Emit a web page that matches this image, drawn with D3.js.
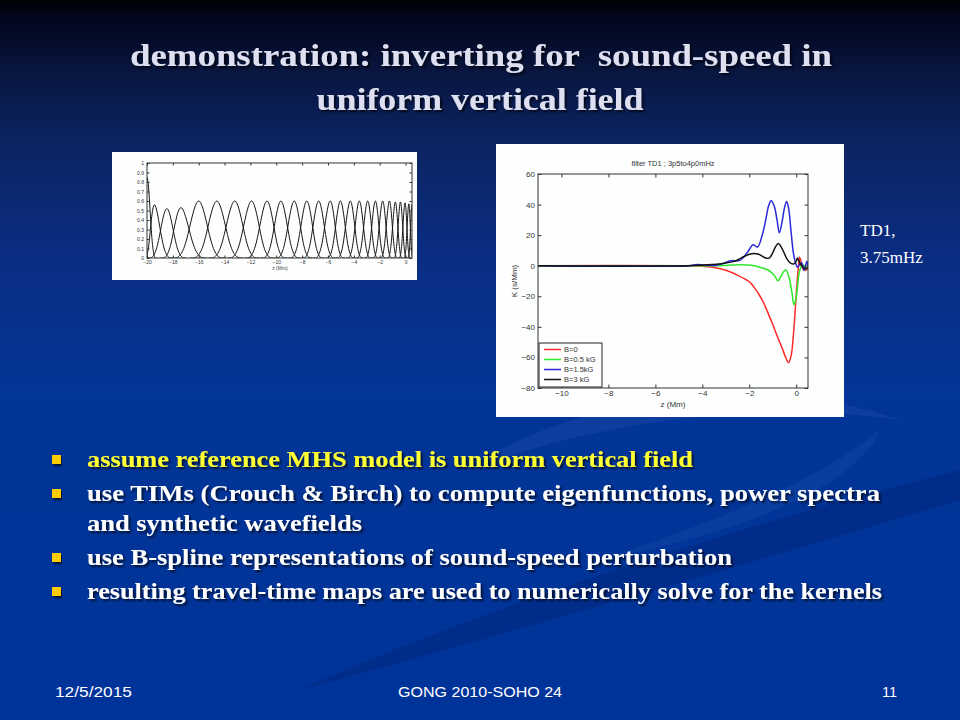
<!DOCTYPE html>
<html lang="en">
<head>
<meta charset="UTF-8">
<title>demonstration: inverting for sound-speed</title>
<script src="https://cdn.jsdelivr.net/npm/d3@7"></script>
<style>
    body { margin: 0; background: #003399; }
    svg { display: block; }
</style>
</head>
<body>
<svg id="slide" width="960" height="720"></svg>
<script>
    // left panel: B-spline basis, peak position (Mm) and peak height of each function
    var splineCenters = [-20, -19.48, -18.47, -17.42, -16.0, -14.6, -13.2, -11.9, -10.7, -9.64, -8.6, -7.63,
        -6.72, -5.81, -5.04, -4.26, -3.57, -2.92, -2.33, -1.76, -1.24, -0.78, -0.39, -0.03, 0.26, 0.5];
    var splineHeights = [0.85, 0.56, 0.52, 0.53, 0.6, 0.6, 0.6, 0.6, 0.6, 0.6, 0.6, 0.6,
        0.6, 0.6, 0.6, 0.6, 0.6, 0.6, 0.6, 0.6, 0.6, 0.59, 0.59, 0.58, 0.57, 0.56];
    var splineXTicks = [-20, -18, -16, -14, -12, -10, -8, -6, -4, -2, 0];
    var splineYTicks = [0, 0.1, 0.2, 0.3, 0.4, 0.5, 0.6, 0.7, 0.8, 0.9, 1];

    // right panel: kernels K (s/Mm) against z (Mm)
    var kernelNames = ["B=0", "B=0.5 kG", "B=1.5kG", "B=3 kG"];
    var kernelColors = ["#ff2a2a", "#2ee82e", "#2a2ad8", "#111111"];
    var kernelB0 = [[-11, 0], [-4.6, 0], [-4, -0.3], [-3.5, -1.2], [-3, -3], [-2.5, -6.2], [-2, -10.5],
        [-1.8, -14], [-1.6, -18.5], [-1.4, -24], [-1.2, -31], [-1.0, -38.5], [-0.8, -46.5], [-0.6, -54],
        [-0.45, -60], [-0.33, -63.5], [-0.22, -59], [-0.12, -45], [-0.04, -28], [0.03, -12], [0.09, -1],
        [0.14, 5.5], [0.2, 3], [0.28, -2], [0.38, -3], [0.5, -2]];
    var kernelB05 = [[-11, 0], [-4, 0], [-3, 0.2], [-2.4, 0.7], [-1.9, 0.3], [-1.5, -1.2], [-1.2, -2.8],
        [-0.95, -6], [-0.78, -9.8], [-0.62, -6], [-0.45, -2.6], [-0.3, -8], [-0.18, -18], [-0.1, -25.5],
        [-0.02, -22], [0.05, -14], [0.12, -5], [0.2, -1], [0.3, 0.5], [0.4, -1], [0.5, -2]];
    var kernelB15 = [[-11, 0], [-4.6, 0], [-4.2, 0.8], [-3.8, 0.3], [-3.4, 0.3], [-3.1, 1.5], [-2.8, 3.3],
        [-2.4, 3.5], [-2.1, 8.3], [-1.84, 13.7], [-1.65, 12.2], [-1.45, 20], [-1.3, 30], [-1.18, 39],
        [-1.07, 42.5], [-0.94, 39], [-0.82, 30], [-0.72, 21.5], [-0.6, 29], [-0.5, 38], [-0.41, 42],
        [-0.33, 38], [-0.22, 22], [-0.12, 8], [-0.05, 3], [0.05, -1], [0.14, 0.8], [0.23, 2], [0.33, -3],
        [0.4, 0], [0.45, 3], [0.5, 0]];
    var kernelB3 = [[-11, 0], [-4.6, 0], [-4, 0.5], [-3.4, 1], [-3, 1.8], [-2.6, 3], [-2.3, 5.5], [-2.0, 7.5],
        [-1.8, 8], [-1.6, 7.5], [-1.3, 5], [-1.15, 5], [-1.0, 8.5], [-0.88, 12.5], [-0.76, 14.5],
        [-0.65, 12.5], [-0.52, 8.5], [-0.38, 4], [-0.22, 1.5], [-0.1, 1.2], [0.0, 3], [0.05, 5], [0.12, 3],
        [0.2, 0.5], [0.3, -1], [0.4, -2], [0.5, -1]];
    var kernelXTicks = [-10, -8, -6, -4, -2, 0];
    var kernelYTicks = [60, 40, 20, 0, -20, -40, -60, -80];

    var bullets = [
        {lines: ["assume reference MHS model is uniform vertical field"], hi: true},
        {lines: ["use TIMs (Crouch & Birch) to compute eigenfunctions, power spectra", "and synthetic wavefields"]},
        {lines: ["use B-spline representations of sound-speed perturbation"]},
        {lines: ["resulting travel-time maps are used to numerically solve for the kernels"]}
    ];

    var svg = d3.select("#slide");
    var defs = svg.append("defs");

    var grad = defs.append("linearGradient").attr("id", "bg")
        .attr("x1", 0).attr("y1", 0).attr("x2", 0).attr("y2", 1);
    [[0, "#000006"], [0.02, "#020419"], [0.1, "#081640"], [0.2, "#0c2462"], [0.35, "#0a2d82"],
        [0.55, "#033598"], [1, "#003399"]].forEach(function (s) {
        grad.append("stop").attr("offset", s[0]).attr("stop-color", s[1]);
    });

    var shadow = defs.append("filter").attr("id", "shadow")
        .attr("x", "-5%").attr("y", "-20%").attr("width", "110%").attr("height", "150%");
    shadow.append("feDropShadow").attr("dx", 2).attr("dy", 2).attr("stdDeviation", 0.8)
        .attr("flood-color", "#000").attr("flood-opacity", 0.7);

    svg.append("rect").attr("width", 960).attr("height", 720).attr("fill", "url(#bg)");

    // faint swooshes in the background
    svg.append("path")
        .attr("d", "M470,470 C560,400 760,370 900,420 C760,400 600,420 470,470 Z")
        .attr("fill", "#5b86d8").attr("opacity", 0.12);
    svg.append("path")
        .attr("d", "M300,690 C500,600 760,520 960,470 L960,500 C760,560 520,630 300,690 Z")
        .attr("fill", "#001f70").attr("opacity", 0.35);
    svg.append("path")
        .attr("d", "M600,560 C720,520 820,480 880,430 C860,480 760,530 600,560 Z")
        .attr("fill", "#5b86d8").attr("opacity", 0.1);

    // title
    var title = svg.append("g").attr("font-family", "'Liberation Serif', 'Times New Roman', serif")
        .attr("font-weight", "bold").attr("font-size", 31).attr("fill", "#dedff0")
        .attr("text-anchor", "middle").attr("filter", "url(#shadow)");
    title.append("text").attr("x", 481).attr("y", 66)
        .attr("textLength", 702).attr("lengthAdjust", "spacingAndGlyphs")
        .text("demonstration: inverting for \u00a0sound-speed in");
    title.append("text").attr("x", 480).attr("y", 110)
        .attr("textLength", 327).attr("lengthAdjust", "spacingAndGlyphs")
        .text("uniform vertical field");

    // ---------- left panel ----------
    var left = svg.append("g");
    left.append("rect").attr("x", 112).attr("y", 152).attr("width", 305).attr("height", 128).attr("fill", "#fdfefe");

    var sx = d3.scaleLinear().domain([-20, 0.5]).range([147, 412]);
    var sy = d3.scaleLinear().domain([0, 1]).range([258, 163]);

    defs.append("clipPath").attr("id", "clipL").append("rect")
        .attr("x", sx.range()[0]).attr("y", sy.range()[1])
        .attr("width", sx.range()[1] - sx.range()[0]).attr("height", sy.range()[0] - sy.range()[1]);

    var basisLine = d3.line().x(function (d) { return sx(d[0]); }).y(function (d) { return sy(d[1]); })
        .curve(d3.curveBasis);

    function basisPoints(i) {
        var c = splineCenters[i], h = splineHeights[i];
        var prev = i > 0 ? splineCenters[i - 1] : c - (splineCenters[1] - c);
        var next = i < splineCenters.length - 1 ? splineCenters[i + 1] : c + (c - splineCenters[i - 1]);
        var wl = 1.45 * (c - prev), wr = 1.45 * (next - c);
        return [[c - wl, 0], [c - wl / 2, 0], [c, 1.5 * h], [c + wr / 2, 0], [c + wr, 0]];
    }

    left.append("g").attr("clip-path", "url(#clipL)")
        .selectAll("path").data(d3.range(splineCenters.length)).enter()
        .append("path")
        .attr("d", function (i) { return basisLine(basisPoints(i)); })
        .attr("fill", "none").attr("stroke", "#151515").attr("stroke-width", 1);

    function boxAxes(g, x, y, xt, yt, fs, tl, xfmt, yfmt) {
        var x0 = x.range()[0], x1 = x.range()[1], y0 = y.range()[0], y1 = y.range()[1];
        g.append("g").attr("transform", "translate(0," + y0 + ")")
            .call(d3.axisBottom(x).tickValues(xt).tickSize(-tl).tickPadding(2).tickFormat(xfmt));
        g.append("g").attr("transform", "translate(0," + y1 + ")")
            .call(d3.axisTop(x).tickValues(xt).tickSize(-tl).tickFormat(""));
        g.append("g").attr("transform", "translate(" + x0 + ",0)")
            .call(d3.axisLeft(y).tickValues(yt).tickSize(-tl).tickPadding(3).tickFormat(yfmt));
        g.append("g").attr("transform", "translate(" + x1 + ",0)")
            .call(d3.axisRight(y).tickValues(yt).tickSize(-tl).tickFormat(""));
        g.selectAll(".domain").remove();
        g.selectAll(".tick line").attr("stroke", "#333");
        g.selectAll(".tick text").attr("font-size", fs).attr("fill", "#333")
            .attr("font-family", "'Liberation Sans', Arial, sans-serif");
        g.append("rect").attr("x", x0).attr("y", y1).attr("width", x1 - x0).attr("height", y0 - y1)
            .attr("fill", "none").attr("stroke", "#333").attr("stroke-width", 1);
    }

    var leftAxes = left.append("g");
    boxAxes(leftAxes, sx, sy, splineXTicks, splineYTicks, 5, 2.5, d3.format("d"), function (d) { return d; });
    left.append("text").attr("x", 280).attr("y", 270).attr("text-anchor", "middle")
        .attr("font-size", 5).attr("fill", "#444").attr("font-family", "'Liberation Sans', Arial, sans-serif")
        .text("z (Mm)");

    // ---------- right panel ----------
    var right = svg.append("g");
    right.append("rect").attr("x", 496).attr("y", 144).attr("width", 348).attr("height", 273).attr("fill", "#fdfefe");

    var kx = d3.scaleLinear().domain([-11, 0.5]).range([538, 808]);
    var ky = d3.scaleLinear().domain([-80, 60]).range([388, 174]);

    defs.append("clipPath").attr("id", "clipR").append("rect")
        .attr("x", kx.range()[0]).attr("y", ky.range()[1])
        .attr("width", kx.range()[1] - kx.range()[0]).attr("height", ky.range()[0] - ky.range()[1]);

    var kLine = d3.line().x(function (d) { return kx(d[0]); }).y(function (d) { return ky(d[1]); })
        .curve(d3.curveCatmullRom.alpha(0.5));

    var kernels = [kernelB0, kernelB05, kernelB15, kernelB3];
    right.append("g").attr("clip-path", "url(#clipR)")
        .selectAll("path").data(kernels).enter()
        .append("path")
        .attr("d", kLine)
        .attr("fill", "none")
        .attr("stroke", function (d, i) { return kernelColors[i]; })
        .attr("stroke-width", 1.5);

    var rightAxes = right.append("g");
    boxAxes(rightAxes, kx, ky, kernelXTicks, kernelYTicks, 8, 3.5, d3.format("d"), d3.format("d"));

    var labelFont = "'Liberation Sans', Arial, sans-serif";
    right.append("text").attr("x", 673).attr("y", 166).attr("text-anchor", "middle")
        .attr("font-size", 7.5).attr("fill", "#333").attr("font-family", labelFont)
        .text("filter TD1 ; 3p5to4p0mHz");
    right.append("text").attr("x", 673).attr("y", 407).attr("text-anchor", "middle")
        .attr("font-size", 8).attr("fill", "#333").attr("font-family", labelFont)
        .text("z (Mm)");
    right.append("text").attr("transform", "translate(517,281) rotate(-90)").attr("text-anchor", "middle")
        .attr("font-size", 8).attr("fill", "#333").attr("font-family", labelFont)
        .text("K (s/Mm)");

    var legend = right.append("g");
    legend.append("rect").attr("x", 539).attr("y", 343).attr("width", 63).attr("height", 44)
        .attr("fill", "#fff").attr("stroke", "#222").attr("stroke-width", 1);
    var rows = legend.selectAll("g.row").data(kernelNames).enter().append("g")
        .attr("transform", function (d, i) { return "translate(0," + (349.5 + i * 10) + ")"; });
    rows.append("line").attr("x1", 544).attr("x2", 561)
        .attr("stroke", function (d, i) { return kernelColors[i]; }).attr("stroke-width", 1.5);
    rows.append("text").attr("x", 564).attr("y", 2.8).attr("font-size", 7.5).attr("fill", "#333")
        .attr("font-family", labelFont).text(function (d) { return d; });

    // side note
    var note = svg.append("g").attr("font-family", "'Liberation Serif', 'Times New Roman', serif")
        .attr("font-size", 17).attr("fill", "#ffffff");
    note.append("text").attr("x", 860).attr("y", 236).text("TD1,");
    note.append("text").attr("x", 860).attr("y", 263).text("3.75mHz");

    // bullets
    var lineY = [[467], [501, 531], [565], [599]];
    var lineW = [[606], [793, 275], [645], [795]];
    var body = svg.append("g").attr("font-family", "'Liberation Serif', 'Times New Roman', serif")
        .attr("font-weight", "bold").attr("font-size", 22.5);
    bullets.forEach(function (b, i) {
        body.append("rect").attr("x", 52).attr("y", lineY[i][0] - 12).attr("width", 9).attr("height", 9)
            .attr("fill", "#ffcc00").attr("filter", "url(#shadow)");
        b.lines.forEach(function (t, j) {
            body.append("text").attr("x", 87).attr("y", lineY[i][j])
                .attr("fill", b.hi ? "#ffff33" : "#ffffff")
                .attr("filter", "url(#shadow)")
                .attr("textLength", lineW[i][j]).attr("lengthAdjust", "spacingAndGlyphs")
                .text(t);
        });
    });

    // footer
    var foot = svg.append("g").attr("font-family", "'Liberation Sans Narrow', 'Arial Narrow', 'Liberation Sans', sans-serif")
        .attr("font-size", 14.5).attr("fill", "#ffffff");
    foot.append("text").attr("x", 55).attr("y", 697).attr("textLength", 77)
        .attr("lengthAdjust", "spacingAndGlyphs").text("12/5/2015");
    foot.append("text").attr("x", 480).attr("y", 697).attr("text-anchor", "middle").attr("textLength", 164)
        .attr("lengthAdjust", "spacingAndGlyphs").text("GONG 2010-SOHO 24");
    foot.append("text").attr("x", 897).attr("y", 697).attr("text-anchor", "end").text("11");
</script>
</body>
</html>
